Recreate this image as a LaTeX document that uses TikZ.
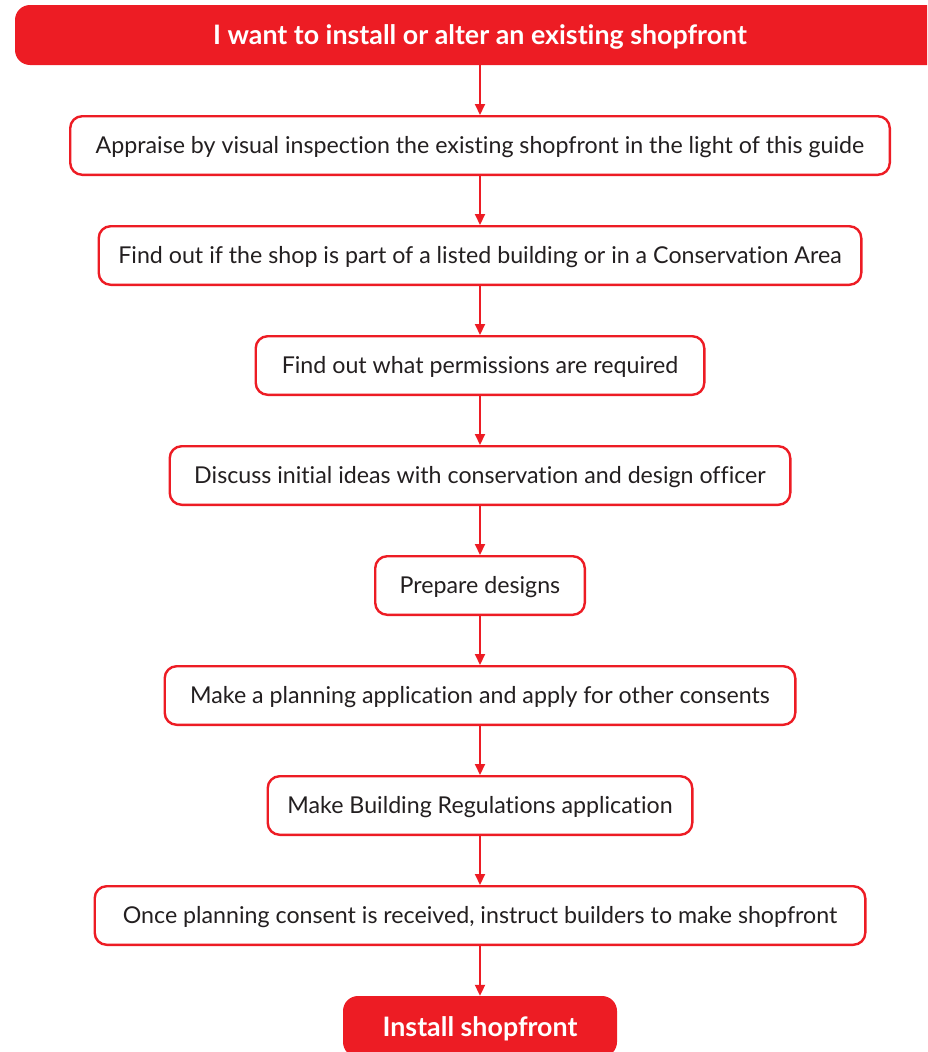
\documentclass[tikz,border=0pt]{standalone}
\usepackage{fontspec}
\setmainfont{Lato}[Ligatures=NoCommon]
\usetikzlibrary{arrows.meta}
\definecolor{brandred}{HTML}{ED1C24}
\definecolor{txt}{HTML}{231F20}
\tikzset{
  stepbox/.style={draw=brandred, line width=2.4pt, rounded corners=12pt, fill=white,
    minimum height=58.6pt, inner sep=0pt, text=txt, text height=16.6pt, text depth=0pt,
    font=\fontsize{23.2}{26}\selectfont},
  endbox/.style={fill=brandred, rounded corners=15pt, minimum height=61pt, inner sep=0pt,
    text=white, text height=19.2pt, text depth=0pt, font=\bfseries\fontsize{26.8}{30}\selectfont},
  flow/.style={draw=brandred, line width=2pt, -{Triangle[length=11pt,width=10pt]}}
}
\begin{document}
\begin{tikzpicture}[x=1pt,y=-1pt]
\useasboundingbox (0,0) rectangle (927,1052);
\clip (0,0) rectangle (927,1052);
\node[endbox, minimum width=930pt, minimum height=60pt] (top) at (480,35) {I want to install or alter an existing shopfront};
\node[stepbox, minimum width=819.6pt] (n1) at (480,145.5) {Appraise by visual inspection the existing shopfront in the light of this guide};
\node[stepbox, minimum width=762.6pt] (n2) at (480,255.5) {Find out if the shop is part of a listed building or in a Conservation Area};
\node[stepbox, minimum width=448.6pt] (n3) at (480,365.5) {Find out what permissions are required};
\node[stepbox, minimum width=620.6pt] (n4) at (480,475.5) {Discuss initial ideas with conservation and design officer};
\node[stepbox, minimum width=209.6pt] (n5) at (480,585.5) {Prepare designs};
\node[stepbox, minimum width=630.6pt] (n6) at (480,695.5) {Make a planning application and apply for other consents};
\node[stepbox, minimum width=424.6pt] (n7) at (480,805.5) {Make Building Regulations application};
\node[stepbox, minimum width=770.6pt] (n8) at (480,915.5) {Once planning consent is received, instruct builders to make shopfront};
\node[endbox, minimum width=274pt] (n9) at (480,1026.5) {Install shopfront};
\draw[flow] (top.south) -- (n1.north);
\draw[flow] (n1.south) -- (n2.north);
\draw[flow] (n2.south) -- (n3.north);
\draw[flow] (n3.south) -- (n4.north);
\draw[flow] (n4.south) -- (n5.north);
\draw[flow] (n5.south) -- (n6.north);
\draw[flow] (n6.south) -- (n7.north);
\draw[flow] (n7.south) -- (n8.north);
\draw[flow] (n8.south) -- (n9.north);
\end{tikzpicture}
\end{document}
